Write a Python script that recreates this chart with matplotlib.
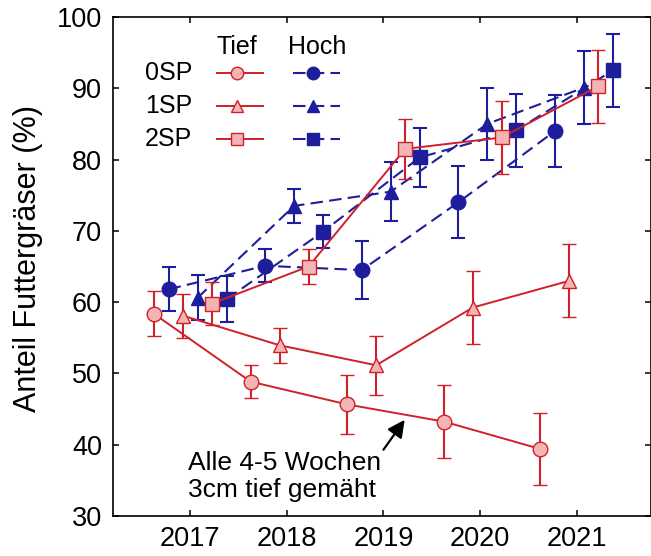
import matplotlib
matplotlib.use('Agg')
import matplotlib.pyplot as plt

plt.rcParams['font.family'] = ['Liberation Sans', 'DejaVu Sans']

years = [2017, 2018, 2019, 2020, 2021]

# Mittelwerte und Fehler (Tief = 3cm, Hoch)
tief_0sp = [58.35, 48.85, 45.65, 43.25, 39.4]
tief_0sp_err = [3.15, 2.35, 4.15, 5.15, 5.1]
tief_1sp = [58.1, 53.95, 51.15, 59.25, 63.0]
tief_1sp_err = [3.1, 2.45, 4.15, 5.15, 5.1]
tief_2sp = [59.8, 65.0, 81.5, 83.1, 90.3]
tief_2sp_err = [3.0, 2.4, 4.2, 5.1, 5.1]

hoch_0sp = [61.8, 65.1, 64.5, 74.0, 84.0]
hoch_0sp_err = [3.1, 2.3, 4.1, 5.05, 5.1]
hoch_1sp = [60.6, 73.5, 75.5, 85.0, 90.1]
hoch_1sp_err = [3.15, 2.35, 4.15, 5.1, 5.15]
hoch_2sp = [60.4, 69.9, 80.3, 84.1, 92.5]
hoch_2sp_err = [3.2, 2.35, 4.15, 5.1, 5.1]

row_labels = ['0SP', '1SP', '2SP']
col_labels = ['Tief', 'Hoch']

red = '#D0202A'
pink = '#F4B4B4'
blue = '#1E1E9C'
markers = ['o', '^', 's']

fig = plt.figure(figsize=(6.51, 5.56), dpi=100)
ax = fig.add_axes([0.1736, 0.0719, 0.8264, 0.8975])

hoch = [(hoch_0sp, hoch_0sp_err), (hoch_1sp, hoch_1sp_err), (hoch_2sp, hoch_2sp_err)]
tief = [(tief_0sp, tief_0sp_err), (tief_1sp, tief_1sp_err), (tief_2sp, tief_2sp_err)]
hoch_offs = [-0.225, 0.075, 0.375]
tief_offs = [-0.375, -0.075, 0.225]

for (vals, err), off, m in zip(hoch, hoch_offs, markers):
    xs = [y + off for y in years]
    ax.errorbar(xs, vals, yerr=err, color=blue, lw=1.5, ls=(0, (6, 3)),
                marker=m, ms=10.5, mfc=blue, mec=blue, ecolor=blue,
                elinewidth=1.5, capsize=5, capthick=1.5, zorder=2)

for (vals, err), off, m in zip(tief, tief_offs, markers):
    xs = [y + off for y in years]
    ax.errorbar(xs, vals, yerr=err, color=red, lw=1.4, ls='-',
                marker=m, ms=10.5, mfc=pink, mec=red, mew=1.0, ecolor=red,
                elinewidth=1.5, capsize=5, capthick=1.5, zorder=3)

ax.set_xlim(2016.2, 2021.77)
ax.set_ylim(30, 100)
ax.set_xticks(years)
ax.set_yticks(range(30, 101, 10))
ax.tick_params(direction='in', length=4, width=1.1, top=True, right=True,
               labelsize=19.5)
ax.tick_params(axis='x', pad=7)
ax.tick_params(axis='y', pad=8)
for s in ax.spines.values():
    s.set_linewidth(1.2)

ax.set_ylabel('Anteil Futtergräser (%)', fontsize=22)
ax.yaxis.set_label_coords(-0.13, 0.517)

# Legende als kleine Tabelle
ax.text(0.2305, 0.94, col_labels[0], transform=ax.transAxes, ha='center', va='center', fontsize=18)
ax.text(0.379, 0.94, col_labels[1], transform=ax.transAxes, ha='center', va='center', fontsize=18)
for lab, yy, m in zip(row_labels, [0.888, 0.822, 0.756], markers):
    ax.text(0.147, yy, lab, transform=ax.transAxes, ha='right', va='center', fontsize=18)
    ax.plot([0.193, 0.279], [yy, yy], transform=ax.transAxes, color=red, lw=1.4)
    ax.plot([0.2305], [yy], transform=ax.transAxes, marker=m, ms=9, mfc=pink, mec=red, mew=1.0)
    ax.plot([0.3346, 0.4219], [yy, yy], transform=ax.transAxes, color=blue, lw=1.5, ls=(0, (6, 3)))
    ax.plot([0.3717], [yy], transform=ax.transAxes, marker=m, ms=9, mfc=blue, mec=blue)

ax.annotate('', xy=(2019.22, 43.5), xytext=(2019.0, 39.3),
            arrowprops=dict(arrowstyle='-|>', color='black', lw=1.6, mutation_scale=26,
                            shrinkA=0, shrinkB=0))
ax.text(2016.975, 35.5, 'Alle 4-5 Wochen\n3cm tief gemäht', ha='left', va='center',
        fontsize=19, linespacing=1.15)

plt.savefig('out.png', dpi=100)
